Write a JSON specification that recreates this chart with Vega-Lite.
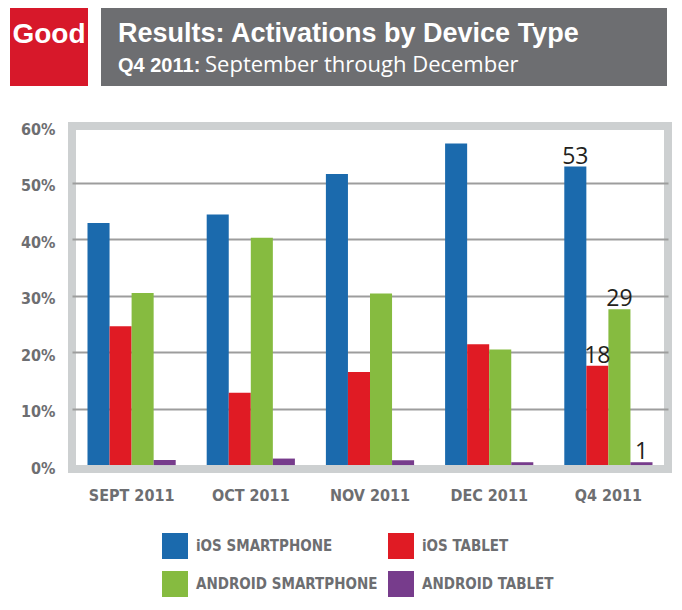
{
  "$schema": "https://vega.github.io/schema/vega-lite/v6.json",
  "background": "white",
  "padding": {"left": 10, "top": 8, "right": 0, "bottom": 0},
  "spacing": 31,
  "vconcat": [
    {
      "spacing": 13,
      "hconcat": [
        {
          "width": 78,
          "height": 78,
          "view": {"fill": "#d7182a", "stroke": null},
          "data": {"values": [{"text": "Good"}]},
          "mark": {"type": "text", "baseline": "alphabetic", "font": "Liberation Sans", "fontWeight": "bold", "fontSize": 28, "color": "white", "dy": -4, "letterSpacing": -1},
          "encoding": {"text": {"field": "text"}}
        },
        {
          "width": 566,
          "height": 78,
          "view": {"fill": "#6d6e71", "stroke": null},
          "data": {"values": [
            {"part": "title", "text": "Results: Activations by Device Type"},
            {"part": "lead", "text": "Q4 2011:"},
            {"part": "rest", "text": "September through December"}
          ]},
          "encoding": {
            "x": {"datum": 0, "type": "quantitative", "scale": {"domain": [0, 1]}, "axis": null},
            "text": {"field": "text"}
          },
          "layer": [
            {
              "transform": [{"filter": "datum.part === 'title'"}],
              "mark": {"type": "text", "align": "left", "baseline": "alphabetic", "dx": 17, "dy": -5, "font": "Liberation Sans", "fontWeight": "bold", "fontSize": 27, "color": "white"}
            },
            {
              "transform": [{"filter": "datum.part === 'lead'"}],
              "mark": {"type": "text", "align": "left", "baseline": "alphabetic", "dx": 17, "dy": 25, "font": "Liberation Sans", "fontWeight": "bold", "fontSize": 20, "color": "white"}
            },
            {
              "transform": [{"filter": "datum.part === 'rest'"}],
              "mark": {"type": "text", "align": "left", "baseline": "alphabetic", "dx": 104, "dy": 25, "font": "Open Sans", "fontWeight": "normal", "fontSize": 22, "color": "white"}
            }
          ]
        }
      ]
    },
    {
      "spacing": 0,
      "hconcat": [
        {
          "width": 1,
          "height": 1,
          "view": {"stroke": null},
          "data": {"values": []},
          "mark": {"type": "point", "opacity": 0}
        },
        {
          "width": 596,
          "height": 343,
          "view": {"stroke": "#cdd0d1", "strokeWidth": 8},
          "data": {"values": [
            {"month": "SEPT 2011", "device": "iOS SMARTPHONE", "value": 42.9},
            {"month": "SEPT 2011", "device": "iOS TABLET", "value": 24.6},
            {"month": "SEPT 2011", "device": "ANDROID SMARTPHONE", "value": 30.5},
            {"month": "SEPT 2011", "device": "ANDROID TABLET", "value": 0.9},
            {"month": "OCT 2011", "device": "iOS SMARTPHONE", "value": 44.4},
            {"month": "OCT 2011", "device": "iOS TABLET", "value": 12.8},
            {"month": "OCT 2011", "device": "ANDROID SMARTPHONE", "value": 40.3},
            {"month": "OCT 2011", "device": "ANDROID TABLET", "value": 1.15},
            {"month": "NOV 2011", "device": "iOS SMARTPHONE", "value": 51.6},
            {"month": "NOV 2011", "device": "iOS TABLET", "value": 16.5},
            {"month": "NOV 2011", "device": "ANDROID SMARTPHONE", "value": 30.4},
            {"month": "NOV 2011", "device": "ANDROID TABLET", "value": 0.85},
            {"month": "DEC 2011", "device": "iOS SMARTPHONE", "value": 57.0},
            {"month": "DEC 2011", "device": "iOS TABLET", "value": 21.4},
            {"month": "DEC 2011", "device": "ANDROID SMARTPHONE", "value": 20.5},
            {"month": "DEC 2011", "device": "ANDROID TABLET", "value": 0.5},
            {"month": "Q4  2011", "device": "iOS SMARTPHONE", "value": 52.9, "label": "53"},
            {"month": "Q4  2011", "device": "iOS TABLET", "value": 17.6, "label": "18"},
            {"month": "Q4  2011", "device": "ANDROID SMARTPHONE", "value": 27.6, "label": "29"},
            {"month": "Q4  2011", "device": "ANDROID TABLET", "value": 0.5, "label": "1"}
          ]},
          "encoding": {
            "x": {
              "field": "month", "type": "nominal",
              "sort": ["SEPT 2011", "OCT 2011", "NOV 2011", "DEC 2011", "Q4  2011"],
              "scale": {"paddingInner": 0.26, "paddingOuter": 0.13},
              "axis": {"title": null, "labelAngle": 0, "domain": false, "ticks": false, "labelPadding": 18,
                       "labelFont": "DejaVu Sans Condensed", "labelFontSize": 16, "labelFontWeight": "bold", "labelColor": "#6d6e71"}
            },
            "xOffset": {
              "field": "device", "type": "nominal",
              "sort": ["iOS SMARTPHONE", "iOS TABLET", "ANDROID SMARTPHONE", "ANDROID TABLET"],
              "scale": {"paddingInner": 0, "paddingOuter": 0}
            },
            "y": {
              "field": "value", "type": "quantitative",
              "scale": {"domain": [-0.7, 60.1], "nice": false, "zero": false},
              "axis": {
                "title": null, "values": [0, 10, 20, 30, 40, 50, 60], "labelExpr": "datum.value + '%'",
                "domain": false, "ticks": false, "labelPadding": 17, "labelOffset": 3, "minExtent": 57,
                "labelFont": "DejaVu Sans Condensed", "labelFontSize": 16, "labelFontWeight": "bold", "labelColor": "#6d6e71",
                "grid": true, "gridColor": "#9d9d9d", "gridWidth": 2,
                "gridOpacity": {"condition": {"test": "datum.value === 0 || datum.value === 60", "value": 0}, "value": 1}
              }
            }
          },
          "layer": [
            {
              "mark": {"type": "bar"},
              "encoding": {
                "color": {
                  "field": "device", "type": "nominal",
                  "scale": {"domain": ["iOS SMARTPHONE", "iOS TABLET", "ANDROID SMARTPHONE", "ANDROID TABLET"],
                            "range": ["#1b6aad", "#e01b24", "#86bb40", "#773c8c"]},
                  "legend": {
                    "title": null, "orient": "none", "legendX": 152, "legendY": 525, "columns": 2, "direction": "horizontal", "padding": 0,
                    "symbolType": "square", "symbolSize": 676, "symbolStrokeWidth": 0, "symbolOpacity": 1,
                    "labelFont": "DejaVu Sans Condensed", "labelFontSize": 15, "labelFontWeight": "bold", "labelColor": "#6d6e71",
                    "labelOffset": 8, "rowPadding": 12, "columnPadding": 10, "labelLimit": 300
                  }
                }
              }
            },
            {
              "transform": [{"filter": "isValid(datum.label)"}],
              "mark": {"type": "text", "baseline": "alphabetic", "dy": -3, "font": "Open Sans", "fontSize": 23, "color": "#231f20"},
              "encoding": {"text": {"field": "label"}}
            }
          ]
        }
      ]
    }
  ]
}
